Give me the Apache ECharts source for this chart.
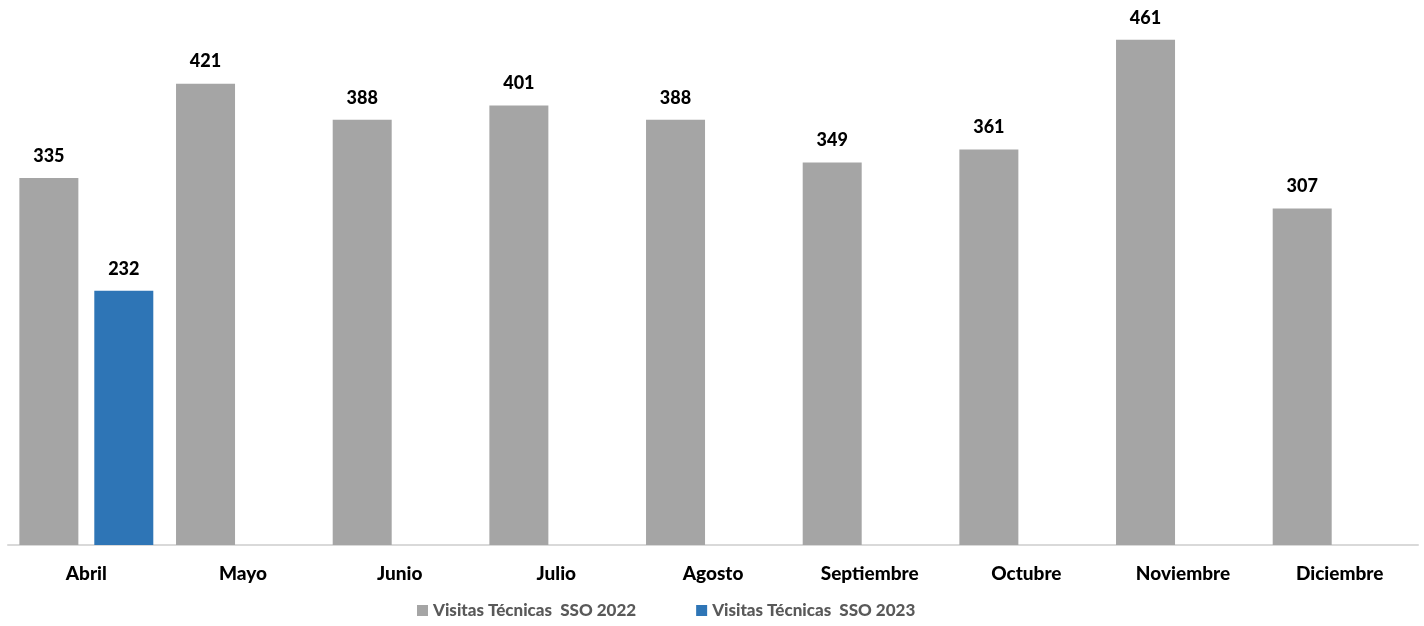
<!DOCTYPE html>
<html>
<head>
<meta charset="utf-8">
<script src="https://cdn.jsdelivr.net/npm/echarts@6/dist/echarts.min.js"></script>
<style>
  html, body { margin: 0; padding: 0; background: #fff; }
  #chart { width: 1424px; height: 626px; }
</style>
</head>
<body>
<div id="chart"></div>
<script>
// datos
var meses = ['Abril', 'Mayo', 'Junio', 'Julio', 'Agosto', 'Septiembre', 'Octubre', 'Noviembre', 'Diciembre'];
var visitas2022 = [335, 421, 388, 401, 388, 349, 361, 461, 307];
var visitas2023 = [232, null, null, null, null, null, null, null, null];

var chart = echarts.init(document.getElementById('chart'));

var etiqueta = {
    show: true,
    position: 'top',
    distance: 13,
    color: '#000',
    fontFamily: 'Lato',
    fontWeight: 900,
    fontSize: 18
};

var option = {
    animation: false,
    textStyle: { fontFamily: 'Lato' },
    grid: { left: 8, right: 6, top: 19, bottom: 81, containLabel: false },
    legend: {
        bottom: 2,
        left: 412,
        itemWidth: 11,
        itemHeight: 11,
        itemGap: 60,
        icon: 'rect',
        textStyle: { color: '#595959', fontWeight: 900, fontSize: 17, fontFamily: 'Lato' },
        data: ['Visitas Técnicas  SSO 2022', 'Visitas Técnicas  SSO 2023']
    },
    xAxis: {
        type: 'category',
        data: meses,
        axisLine: { lineStyle: { color: '#d9d9d9', width: 2 } },
        axisTick: { show: false },
        axisLabel: { color: '#000', fontWeight: 900, fontSize: 19, margin: 19, fontFamily: 'Lato' }
    },
    yAxis: {
        type: 'value',
        min: 0,
        max: 480,
        show: false,
        splitLine: { show: false }
    },
    series: [
        {
            name: 'Visitas Técnicas  SSO 2022',
            type: 'bar',
            data: visitas2022,
            barWidth: 59,
            barGap: '27%',
            itemStyle: { color: '#a5a5a5' },
            label: etiqueta
        },
        {
            name: 'Visitas Técnicas  SSO 2023',
            type: 'bar',
            data: visitas2023,
            barWidth: 59,
            itemStyle: { color: '#2e75b6' },
            label: etiqueta
        }
    ]
};

chart.setOption(option);
</script>
</body>
</html>
